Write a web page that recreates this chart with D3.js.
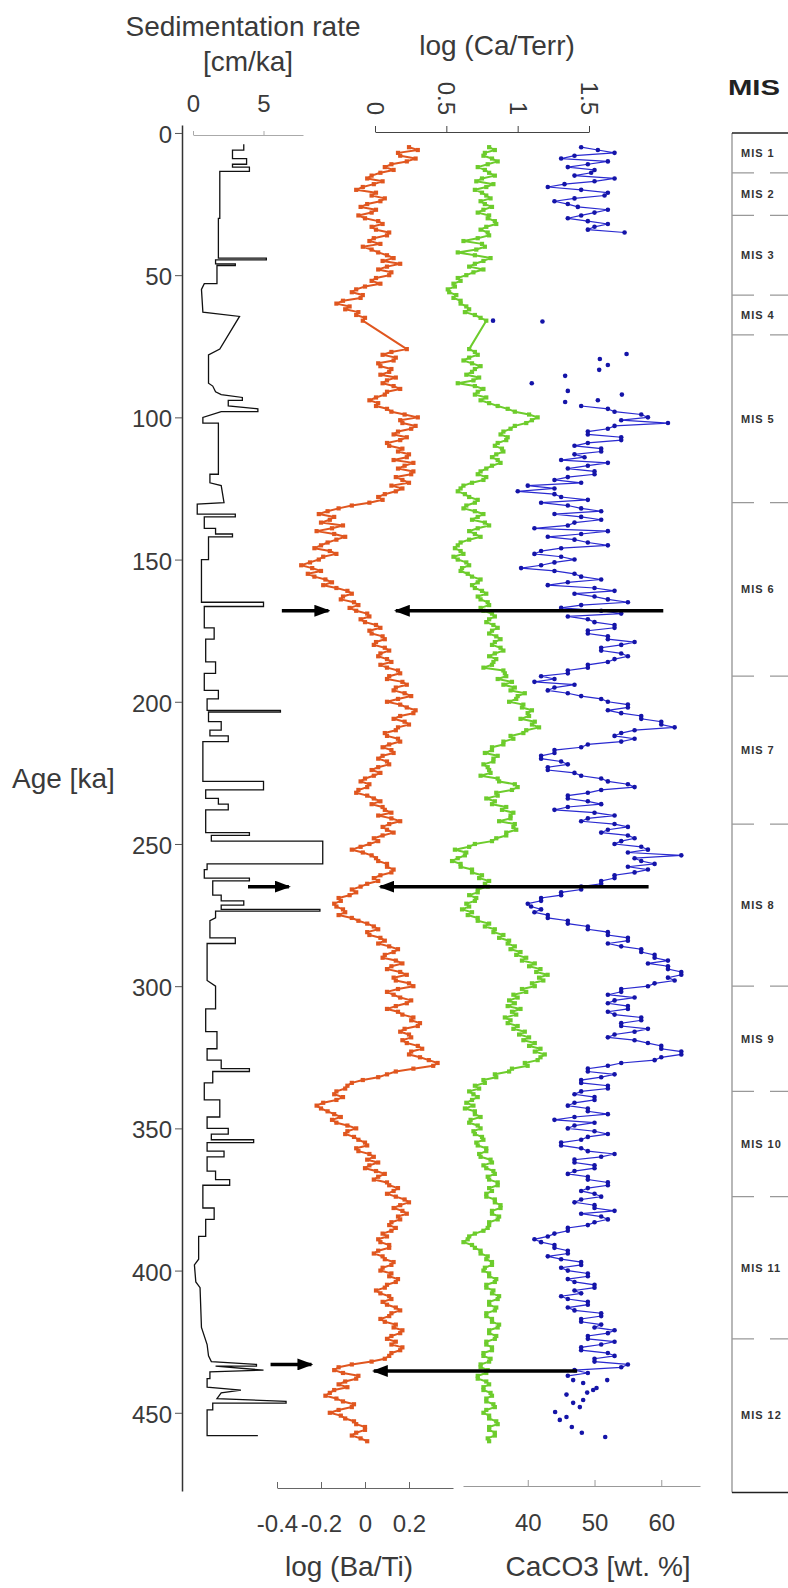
<!DOCTYPE html>
<html>
<head>
<meta charset="utf-8">
<script src="https://cdn.jsdelivr.net/npm/d3@7"></script>
<style>
  body { margin: 0; background: #fff; }
  svg { display: block; font-family: "Liberation Sans", Arial, sans-serif; }
  .tick text { fill: #3a3a3a; font-size: 24px; }
  .title { fill: #3a3a3a; font-size: 28px; }
</style>
</head>
<body>
<svg id="chart" width="788" height="1588"></svg>
<script>
// XRF records: one value per ka starting at 5 ka (null = gap)
const xrfStart = 5, xrfStep = 1;

// log(Ba/Ti)
const baTi = [
  0.2, 0.24, 0.15, 0.16, 0.23, 0.19, 0.12, 0.09, 0.13, 0.07, 0.03, 0.01, 0.08, 0.04, -0.01, -0.04, 0.05, 0.03, 0.09, 0.07,
  0.01, -0.02, 0.05, 0.03, -0.03, 0.0, 0.06, 0.08, 0.03, 0.05, 0.11, 0.1, 0.04, 0.02, 0.07, -0.01, 0.03, 0.06, 0.1, 0.13,
  0.08, 0.16, 0.1, 0.06, 0.12, 0.11, 0.05, 0.03, 0.07, 0.0, -0.04, -0.06, -0.01, -0.02, -0.1, -0.13, -0.07, -0.09, -0.03, -0.04,
  0.0, -0.01, null, null, null, null, null, null, null, null, null, 0.19, 0.12, 0.08, 0.14, 0.13, 0.06, 0.07, 0.12, 0.11,
  0.07, 0.14, 0.1, 0.08, 0.13, 0.16, 0.1, 0.09, 0.05, 0.02, 0.06, 0.05, 0.1, 0.12, 0.18, 0.24, 0.16, 0.17, 0.23, 0.21,
  0.15, 0.13, 0.19, 0.16, 0.1, 0.11, 0.17, 0.15, 0.2, 0.19, 0.13, 0.22, 0.18, 0.15, 0.22, 0.21, 0.14, 0.17, 0.2, 0.12,
  0.17, 0.14, 0.09, 0.06, 0.08, 0.02, -0.06, -0.12, -0.17, -0.21, -0.14, -0.16, -0.2, -0.1, -0.15, -0.22, -0.14, -0.09, -0.13, -0.17,
  -0.2, -0.23, -0.16, -0.13, -0.19, -0.21, -0.25, -0.29, -0.24, -0.2, -0.26, -0.23, -0.18, -0.15, -0.19, -0.13, -0.08, -0.06, -0.1, -0.11,
  -0.05, -0.03, -0.07, -0.04, 0.01, 0.02, -0.02, 0.0, 0.05, 0.07, 0.02, 0.03, 0.08, 0.09, 0.05, 0.04, 0.09, 0.11, 0.07, 0.06,
  0.1, 0.12, 0.07, 0.1, 0.15, 0.16, 0.11, 0.1, 0.17, 0.19, 0.14, 0.13, 0.18, 0.21, 0.15, 0.1, 0.16, 0.19, 0.23, 0.22,
  0.16, 0.13, 0.18, 0.2, 0.15, 0.14, 0.09, 0.1, 0.15, 0.16, 0.11, 0.08, 0.12, 0.13, 0.08, 0.06, 0.1, 0.11, 0.06, 0.03,
  0.07, 0.04, 0.0, -0.02, 0.02, 0.01, -0.03, -0.04, 0.01, 0.04, 0.07, 0.03, 0.08, 0.09, 0.12, 0.06, 0.12, 0.16, 0.11, 0.08,
  0.1, 0.13, 0.08, 0.04, 0.06, 0.02, -0.02, -0.06, -0.01, 0.03, 0.05, 0.06, 0.1, 0.1, 0.13, 0.12, 0.07, 0.04, 0.06, 0.01,
  -0.02, -0.06, -0.04, -0.07, -0.12, -0.11, -0.14, -0.13, -0.1, -0.09, -0.12, -0.06, -0.03, 0.01, 0.04, 0.06, 0.01, 0.02, 0.07, 0.09,
  0.06, 0.11, 0.15, 0.13, 0.09, 0.08, 0.14, 0.17, 0.12, 0.1, 0.16, 0.19, 0.13, 0.14, 0.2, 0.22, 0.15, 0.1, 0.13, 0.16,
  0.21, 0.19, 0.14, 0.1, 0.15, 0.17, 0.22, 0.21, 0.25, 0.24, 0.18, 0.16, 0.2, 0.21, 0.17, 0.19, 0.24, 0.26, 0.21, 0.2,
  0.25, 0.29, 0.33, 0.31, 0.22, 0.14, 0.1, 0.06, -0.01, -0.06, -0.08, -0.09, -0.13, -0.14, -0.1, -0.13, -0.19, -0.22, -0.2, -0.17,
  -0.14, -0.11, -0.15, -0.13, -0.08, -0.04, -0.08, -0.09, -0.05, -0.03, 0.0, 0.01, -0.04, -0.03, 0.02, 0.04, 0.01, 0.06, 0.02, 0.0,
  0.05, 0.09, 0.06, 0.04, 0.1, 0.11, 0.15, 0.13, 0.1, 0.14, 0.18, 0.2, 0.16, 0.13, 0.17, 0.19, 0.15, 0.16, 0.12, 0.11,
  0.14, 0.12, 0.08, 0.1, 0.06, 0.07, 0.11, 0.11, 0.06, 0.04, 0.08, 0.09, 0.13, 0.12, 0.08, 0.07, 0.12, 0.11, 0.15, 0.14,
  0.1, 0.09, 0.05, 0.07, 0.11, 0.12, 0.08, 0.1, 0.14, 0.16, 0.12, 0.11, 0.07, 0.09, 0.14, 0.13, 0.17, 0.16, 0.12, 0.1,
  0.14, 0.12, 0.17, 0.16, 0.12, 0.11, 0.09, 0.03, -0.06, -0.12, -0.14, -0.1, -0.03, -0.04, -0.09, -0.12, -0.08, -0.14, -0.16, -0.18,
  -0.13, -0.1, -0.05, -0.06, -0.12, -0.16, -0.11, -0.09, -0.05, -0.04, 0.0, 0.0, -0.04, -0.06, -0.02, 0.01
];

// log(Ca/Terr)
const caTerr = [
  0.8, 0.84, 0.77, 0.76, 0.82, 0.86, 0.79, 0.72, 0.77, 0.8, 0.84, 0.75, 0.71, 0.83, 0.78, 0.7, 0.75, 0.78, 0.81, 0.74,
  0.77, 0.82, 0.76, 0.72, 0.8, 0.79, 0.84, 0.85, 0.78, 0.74, 0.79, 0.8, 0.72, 0.62, 0.75, 0.77, 0.71, 0.58, 0.7, 0.81,
  0.76, 0.7, 0.66, 0.76, 0.69, 0.64, 0.58, 0.6, 0.55, 0.56, 0.51, 0.52, 0.57, 0.55, 0.6, 0.6, 0.64, 0.66, 0.63, 0.7,
  0.74, 0.78, null, null, null, null, null, null, null, null, null, 0.66, 0.7, 0.72, 0.66, 0.62, 0.68, 0.74, 0.7, 0.68,
  0.64, 0.73, 0.69, 0.58, 0.7, 0.76, 0.72, 0.7, 0.78, 0.74, 0.8, 0.86, 0.93, 0.98, 1.08, 1.14, 1.1, 1.06, 0.98, 0.95,
  0.9, 0.88, 0.93, 0.92, 0.86, 0.84, 0.89, 0.9, 0.85, 0.82, 0.86, 0.88, 0.82, 0.78, 0.74, 0.72, 0.78, 0.76, 0.68, 0.62,
  0.6, 0.58, 0.63, 0.66, 0.72, 0.7, 0.64, 0.62, 0.7, 0.76, 0.72, 0.68, 0.77, 0.8, 0.72, 0.66, 0.7, 0.74, 0.66, 0.6,
  0.58, 0.56, 0.6, 0.62, 0.55, 0.58, 0.64, 0.66, 0.61, 0.6, 0.65, 0.68, 0.74, 0.72, 0.68, 0.7, 0.75, 0.78, 0.72, 0.74,
  0.79, 0.8, 0.74, 0.76, 0.82, 0.84, 0.8, 0.78, 0.83, 0.86, 0.82, 0.8, 0.85, 0.88, 0.84, 0.82, 0.88, 0.9, 0.84, 0.8,
  0.85, 0.83, 0.82, 0.76, 0.9, 0.91, 0.92, 0.86, 0.96, 0.9, 0.98, 0.95, 1.05, 1.0, 0.99, 0.94, 1.04, 1.03, 1.1, 1.07,
  1.08, 1.02, 1.12, 1.1, 1.15, 1.06, 1.04, 0.95, 0.97, 0.9, 0.9, 0.82, 0.82, 0.77, 0.86, 0.83, 0.83, 0.76, 0.79, 0.8,
  0.81, 0.74, 0.86, 0.87, 0.98, 1.0, 0.96, 0.85, 0.86, 0.78, 0.84, 0.82, 0.92, 0.89, 0.97, 0.95, 0.95, 0.87, 0.98, 0.97,
  0.99, 0.92, 0.92, 0.85, 0.82, 0.7, 0.66, 0.56, 0.64, 0.63, 0.58, 0.54, 0.6, 0.6, 0.68, 0.68, 0.75, 0.73, 0.8, 0.77,
  0.79, 0.72, 0.72, 0.66, 0.71, 0.7, 0.64, 0.66, 0.61, 0.68, 0.65, 0.72, 0.72, 0.8, 0.77, 0.84, 0.83, 0.9, 0.87, 0.94,
  0.93, 0.98, 0.95, 1.02, 0.99, 1.06, 1.03, 1.12, 1.08, 1.16, 1.13, 1.21, 1.15, 1.18, 1.1, 1.12, 1.03, 1.06, 0.97, 1.0,
  0.94, 0.98, 0.93, 1.02, 0.96, 0.99, 0.91, 0.95, 0.93, 1.0, 0.97, 1.05, 1.01, 1.08, 1.04, 1.12, 1.08, 1.16, 1.12, 1.19,
  1.16, 1.14, 1.05, 1.07, 0.96, 0.94, 0.84, 0.85, 0.76, 0.77, 0.7, 0.73, 0.66, 0.69, 0.72, 0.68, 0.64, 0.69, 0.63, 0.7,
  0.7, 0.74, 0.67, 0.66, 0.72, 0.74, 0.69, 0.7, 0.75, 0.76, 0.71, 0.72, 0.78, 0.78, 0.73, 0.74, 0.81, 0.82, 0.76, 0.78,
  0.83, 0.84, 0.79, 0.8, 0.86, 0.86, 0.8, 0.82, 0.78, 0.78, 0.84, 0.84, 0.88, 0.88, 0.82, 0.82, 0.87, 0.86, 0.8, 0.8,
  0.79, 0.76, 0.7, 0.66, 0.65, 0.62, 0.68, 0.7, 0.74, 0.74, 0.79, 0.78, 0.82, 0.82, 0.77, 0.76, 0.8, 0.8, 0.85, 0.84,
  0.78, 0.78, 0.83, 0.82, 0.87, 0.86, 0.8, 0.8, 0.85, 0.84, 0.78, 0.78, 0.82, 0.82, 0.87, 0.86, 0.8, 0.8, 0.85, 0.84,
  0.78, 0.78, 0.82, 0.82, 0.76, 0.76, 0.81, 0.8, 0.74, 0.74, 0.79, 0.78, 0.72, 0.72, 0.78, 0.8, 0.76, 0.76, 0.81, 0.82,
  0.78, 0.78, 0.83, 0.84, 0.78, 0.76, 0.8, 0.8, 0.85, 0.86, 0.8, 0.8, 0.84, 0.84, 0.79, 0.8
];

// CaCO3 [wt. %], one value per ka, two connected stretches
const caco3TopStart = 5;
const caco3Top = [
  48, 50.5, 53, 47, 45, 52, 49, 46, 50, 49.5, 47, 53, 50, 45.5, 43, 48, 52, 51.5, 47, 44,
  46, 47.5, 52, 50, 48, 46, 49, 52, 50, 49, 54.5
];
const caco3MainStart = 96;
const caco3Main = [
  48, 52, 53, 57, 58, 54, 61, 53, 52, 49, 49, 54, 54, 49, 47, 51, 51, 47, 48.5, 45,
  52, 49, 46, 50, 50, 46, 44, 48, 40, 44, 38.5, 44, 45, 49, 42, 46, 48, 51, 44, 48,
  51, 47, 46, 41, 52, 48, 43, 47, 49, 52, 45, 42, 41, 45, 47, 44, 42, 39, 44, 47,
  48, 51, 46, 43, 50, 53, 47, 50, 52, 55, 48, 45, 51, 54, 46, 49, 50, 53, 53, 49,
  49, 52, 52, 56, 54, 51, 51, 54, 55, 53, 52, 49, 49, 46, 46, 42, 44, 41, 47, 44,
  43, 46, 48, 51, 52, 55, 55, 52, 54, 57, 57, 60, 60, 62, 56, 54, 53, 56, 54, 49,
  48, 44, 44, 42, 42, 45, 46, 43, 43, 47, 48, 51, 52, 55, 56, 51, 49, 46, 46, 49,
  51, 46, 44, 50, 53, 49, 48, 53, 55, 52, 51, 55, 56, 54, 53, 57, 58, 55, 63, 56,
  57, 59, 55, 58, 56, 53, 53, 51, 51, 48, 48, 45, 45, 42, 42, 40, 40.5, 42, 41, 43,
  43, 46, 46, 49, 49, 52, 52, 55, 55, 52, 54, 57, 57, 59, 59, 61, 58, 61, 61, 63,
  63, 61, 62, 59, 58, 54, 54, 52, 56, 53, 52, 55, 55, 52, 53, 57, 57, 54, 54, 58,
  56, 53, 52, 56, 58, 60, 60, 63, 63, 60, 59, 54, 52, 49, 49, 53, 51, 48, 48, 52,
  52, 48, 47, 50, 50, 47, 46, 49, 49, 52, 47, 44, 50, 47, 46, 50, 52, 49, 48, 45,
  45, 48, 49, 53, 51, 47, 47, 50, 50, 47, 46, 49, 49, 52, 52, 49, 48, 50, 51, 48,
  47, 50, 50, 53, 48, 51, 52, 50, 49, 46, 46, 44, 43, 41, 42, 44, 44, 46, 46, 43,
  45, 48, 48, 45, 46, 49, 49, 46, 47, 50, 50, 47, 48, 45, 46, 49, 49, 46, 47, 51,
  51, 48, 48, 51, 50, 53, 52, 49, 49, 53, 51, 48, 48, 52, 53, 50, 50, 55, 54, 47,
  49, 46
];

// isolated CaCO3 samples [age, wt.%]
const caco3Loose = [
  [66, 34.8], [66.3, 42.2], [77.7, 54.8], [79.5, 50.8], [81.6, 52.0], [83.3, 50.7],
  [85.4, 45.6], [88, 40.6], [90.7, 46], [92, 54.1], [94, 50.5], [94.6, 45.6],
  [438.5, 46.8], [438.5, 51.9], [439.5, 48.3], [441.3, 50.3], [442, 49.8], [442.9, 48.9],
  [443.6, 45.8], [445.5, 48.3], [446.5, 46.8], [448, 47.8], [449.7, 44.1], [451.5, 45.8],
  [452.5, 44.8], [455, 46.6], [457, 48.1], [458.5, 51.6]
];

// sedimentation rate [age, cm/ka]
const sedRate = [
  [4, 3.6], [6, 3.6], [6, 2.8], [9, 2.8], [9, 3.8], [11, 3.8], [11, 2.8], [12, 2.8],
  [12, 4.0], [13.5, 4.0], [13.5, 1.9], [30, 1.9], [30, 1.8], [44, 1.8], [44, 5.2],
  [44.6, 5.2], [44.6, 1.6], [46, 1.6], [46, 3.0], [46.6, 3.0], [46.6, 1.7], [53, 1.7],
  [53, 0.8], [55, 0.6], [63, 0.7], [64.5, 3.3], [76, 1.9], [78, 1.1], [88, 1.1],
  [89, 1.4], [91, 1.6], [92, 2.0], [93, 3.5], [94, 3.5], [94, 2.5], [96, 2.5], [97, 4.6],
  [98, 4.6], [98, 2.0], [100, 0.7], [102, 0.7], [102, 1.8], [120, 1.8], [120, 1.2],
  [123, 1.2], [124, 2.0], [130, 2.2], [130.5, 0.3], [134, 0.3], [134, 3.0], [135, 3.0],
  [135, 0.8], [139, 0.8], [139, 1.6], [141, 1.6], [141, 2.8], [142, 2.8], [142, 1.1],
  [150, 1.1], [150, 0.6], [165, 0.6], [165, 5.0], [166.5, 5.0], [166.5, 0.8], [174, 0.8],
  [174, 1.5], [178, 1.5], [178, 0.9], [186, 0.9], [186, 1.6], [190, 1.6], [190, 0.8],
  [196, 0.8], [196, 1.8], [199, 1.8], [199, 1.0],
  [203, 1.0], [203, 6.2], [203.6, 6.2], [203.6, 1.1], [207, 1.1], [207, 2.0], [210, 2.0],
  [210, 1.2], [212, 1.2], [212, 2.5], [214, 2.5], [214, 0.7], [228, 0.7], [228, 5.0],
  [231, 5.0], [231, 0.9], [234, 0.9], [234, 1.8], [236, 1.8], [236, 2.5], [238, 2.5],
  [238, 0.9], [246, 0.9], [246, 4.0], [247, 4.0], [247, 1.3], [249, 1.3], [249, 9.2],
  [257, 9.2], [257, 1.0], [259, 1.0], [259, 0.8], [262, 0.8], [262, 4.0], [263, 4.0],
  [263, 1.4], [268, 1.4], [268, 2.0], [270, 2.0], [270, 3.6], [271.5, 3.6], [271.5, 2.0],
  [273, 2.0], [273, 9.0], [273.6, 9.0], [273.6, 1.6], [276, 1.6], [277, 1.2], [283, 1.2],
  [283, 3.0], [285, 3.0], [285, 1.0], [298, 1.0], [300, 1.6], [308, 1.6], [308, 0.9],
  [316, 0.9], [316, 1.7], [322, 1.7], [322, 1.0], [326, 1.0], [326, 2.0], [329, 2.0],
  [329, 4.0], [330, 4.0], [330, 1.4], [334, 1.4], [334, 0.8], [340, 0.8], [340, 1.9],
  [346, 1.9], [346, 1.0], [350, 1.0], [350, 2.5], [352, 2.5], [352, 1.3], [354, 1.3],
  [354, 4.3], [355, 4.3], [355, 1.0], [358, 1.0], [358, 2.2], [360, 2.2], [360, 1.0],
  [365, 1.0], [365, 1.6], [368, 1.6], [368, 2.6], [370, 2.6], [370, 0.7], [378, 0.7],
  [378, 1.5], [382, 1.5], [382, 0.9], [388, 0.9], [388, 0.4], [396, 0.4], [398, 0.1],
  [404, 0.2], [406, 0.5], [420, 0.6], [426, 1.0], [430, 1.1], [432, 1.3], [433, 4.5],
  [433.6, 4.5], [433.6, 1.6], [435, 5.0], [435.6, 1.2], [438, 1.2], [438, 1.0], [441, 1.0],
  [442, 3.4], [443, 2.0], [445, 1.7], [446, 6.6], [446.6, 6.6], [446.6, 1.4], [449, 1.4],
  [449, 1.0], [458, 1.0], [458, 4.6]
];

// marine isotope stages
const misBounds = [0, 14, 29, 57, 71, 130, 191, 243, 300, 337, 374, 424, 478];
const misNames = ["MIS 1", "MIS 2", "MIS 3", "MIS 4", "MIS 5", "MIS 6", "MIS 7",
                  "MIS 8", "MIS 9", "MIS 10", "MIS 11", "MIS 12"];

// arrows: short one in sed-rate units, long one from CaCO3 to Ba/Ti
const arrows = [
  { ageShort: 168, sedFrom: 6.3, sedTo: 9.6, ageLong: 168, caco3From: 60.3, baTiTo: 0.14 },
  { ageShort: 265, sedFrom: 3.9, sedTo: 6.8, ageLong: 265, caco3From: 58.1, baTiTo: 0.07 },
  { ageShort: 433, sedFrom: 5.5, sedTo: 8.4, ageLong: 435.3, caco3From: 47.4, baTiTo: 0.04 }
];

const ageTicks = [0, 50, 100, 150, 200, 250, 300, 350, 400, 450];

const svg = d3.select("#chart");

// scales
const y = d3.scaleLinear().domain([-2.8, 477.5]).range([125, 1491]);
const xSed = d3.scaleLinear().domain([0, 7.8]).range([193, 303]);
const xCaTerr = d3.scaleLinear().domain([0, 1.5]).range([375, 589]);
const xBaTi = d3.scaleLinear().domain([-0.4, 0.4]).range([277, 453]);
const xCaco3 = d3.scaleLinear().domain([30.3, 65.8]).range([463, 700]);

// arrow head
svg.append("defs").append("marker")
    .attr("id", "head")
    .attr("markerUnits", "userSpaceOnUse")
    .attr("markerWidth", 16).attr("markerHeight", 12)
    .attr("refX", 14).attr("refY", 6)
    .attr("orient", "auto")
  .append("path")
    .attr("d", "M0,0 L16,6 L0,12 Z")
    .attr("fill", "#000");

// age axis
const ageAxis = svg.append("g")
    .attr("transform", "translate(182,0)")
    .call(d3.axisLeft(y).tickValues(ageTicks).tickSize(7).tickPadding(3).tickSizeOuter(0));
ageAxis.select(".domain").attr("stroke", "#333").attr("stroke-width", 1.5);
ageAxis.selectAll(".tick line").attr("stroke", "#555");
ageAxis.selectAll(".tick text").attr("dy", "0.4em");

svg.append("text").attr("class", "title")
    .attr("x", 12).attr("y", 788).text("Age [ka]");

// sedimentation rate axis (top)
const sedAxis = svg.append("g")
    .attr("transform", "translate(0,135)")
    .call(d3.axisTop(xSed).tickValues([0, 5]).tickSize(4).tickPadding(19).tickSizeOuter(0));
sedAxis.select(".domain").attr("stroke", "#aaa");
sedAxis.selectAll(".tick line").attr("stroke", "#aaa");

svg.append("text").attr("class", "title").attr("text-anchor", "middle")
    .attr("x", 243).attr("y", 36).text("Sedimentation rate");
svg.append("text").attr("class", "title").attr("text-anchor", "middle")
    .attr("x", 248).attr("y", 71).text("[cm/ka]");

// log(Ca/Terr) axis (top, rotated labels)
const caAxis = svg.append("g")
    .attr("transform", "translate(0,132)")
    .call(d3.axisTop(xCaTerr).tickValues([0, 0.5, 1, 1.5]).tickSize(6).tickSizeOuter(0)
      .tickFormat(d => String(d)));
caAxis.select(".domain").attr("stroke", "#444");
caAxis.selectAll(".tick line").attr("stroke", "#444");
caAxis.selectAll(".tick text")
    .attr("y", 0).attr("dy", "0.35em")
    .attr("text-anchor", "end")
    .attr("transform", "translate(0,-17) rotate(90)");

svg.append("text").attr("class", "title").attr("text-anchor", "middle")
    .attr("x", 497).attr("y", 55).text("log (Ca/Terr)");

// log(Ba/Ti) axis (bottom)
const baAxis = svg.append("g")
    .attr("transform", "translate(0,1488)")
    .call(d3.axisBottom(xBaTi).tickValues([-0.4, -0.2, 0, 0.2]).tickSizeInner(-6)
      .tickSizeOuter(0).tickPadding(27).tickFormat(d => String(d)));
baAxis.select(".domain").attr("stroke", "#666");
baAxis.selectAll(".tick line").attr("stroke", "#666");

svg.append("text").attr("class", "title").attr("text-anchor", "middle")
    .attr("x", 349).attr("y", 1576).text("log (Ba/Ti)");

// CaCO3 axis (bottom)
const cAxis = svg.append("g")
    .attr("transform", "translate(0,1486)")
    .call(d3.axisBottom(xCaco3).tickValues([40, 50, 60]).tickSizeInner(-6)
      .tickSizeOuter(0).tickPadding(28));
cAxis.select(".domain").attr("stroke", "#999");
cAxis.selectAll(".tick line").attr("stroke", "#999");

svg.append("text").attr("class", "title").attr("text-anchor", "middle")
    .attr("x", 598).attr("y", 1576).text("CaCO3 [wt. %]");

// sedimentation rate curve
svg.append("path")
    .datum(sedRate)
    .attr("fill", "none")
    .attr("stroke", "#111")
    .attr("stroke-width", 1.3)
    .attr("d", d3.line().x(d => xSed(d[1])).y(d => y(d[0])));

// xrf series: line with small square markers, gaps bridged by straight line
function drawSeries(values, xScale, color) {
  const pts = values.map((v, i) => [xrfStart + i * xrfStep, v]).filter(d => d[1] !== null);
  svg.append("path")
      .datum(pts)
      .attr("fill", "none")
      .attr("stroke", color)
      .attr("stroke-width", 2)
      .attr("stroke-linejoin", "round")
      .attr("d", d3.line().x(d => xScale(d[1])).y(d => y(d[0])));
  svg.append("g").selectAll("rect")
    .data(pts).enter().append("rect")
      .attr("x", d => xScale(d[1]) - 2.1)
      .attr("y", d => y(d[0]) - 2.1)
      .attr("width", 4.2).attr("height", 4.2)
      .attr("fill", color);
}

drawSeries(baTi, xBaTi, "#e0561f");
drawSeries(caTerr, xCaTerr, "#6dcc2c");

// CaCO3: two connected stretches + isolated dots
const caco3Segs = [
  caco3Top.map((v, i) => [caco3TopStart + i, v]),
  caco3Main.map((v, i) => [caco3MainStart + i, v])
];
const caLine = d3.line().x(d => xCaco3(d[1])).y(d => y(d[0]));
svg.append("g").selectAll("path")
  .data(caco3Segs)
  .enter().append("path")
    .attr("fill", "none")
    .attr("stroke", "#2a2ad0")
    .attr("stroke-width", 1.2)
    .attr("d", caLine);
svg.append("g").selectAll("circle")
  .data(caco3Segs[0].concat(caco3Segs[1], caco3Loose))
  .enter().append("circle")
    .attr("cx", d => xCaco3(d[1]))
    .attr("cy", d => y(d[0]))
    .attr("r", 2.3)
    .attr("fill", "#1414a8");

// MIS column
const mis = svg.append("g");
mis.append("line")
    .attr("x1", 732).attr("x2", 732)
    .attr("y1", y(misBounds[0])).attr("y2", y(misBounds[misBounds.length - 1]))
    .attr("stroke", "#888").attr("stroke-width", 1.2);
mis.selectAll("line.bound")
  .data(misBounds)
  .enter().append("line")
    .attr("class", "bound")
    .attr("x1", 732).attr("x2", 788)
    .attr("y1", d => y(d)).attr("y2", d => y(d))
    .attr("stroke", (d, i) => (i === 0 || i === misBounds.length - 1) ? "#222" : "#999")
    .attr("stroke-width", (d, i) => (i === 0 || i === misBounds.length - 1) ? 1.5 : 1.2)
    .attr("stroke-dasharray", (d, i) => (i === 0 || i === misBounds.length - 1) ? null : "22,16,60");
mis.selectAll("text")
  .data(misNames)
  .enter().append("text")
    .attr("x", 741)
    .attr("y", (d, i) => y((misBounds[i] + misBounds[i + 1]) / 2))
    .attr("dy", "0.35em")
    .attr("font-size", 11)
    .attr("font-weight", "bold")
    .attr("letter-spacing", 1)
    .attr("fill", "#333")
    .text(d => d);
svg.append("text")
    .attr("x", 754).attr("y", 95)
    .attr("text-anchor", "middle")
    .attr("font-size", 22).attr("font-weight", "bold")
    .attr("fill", "#222")
    .attr("textLength", 52).attr("lengthAdjust", "spacingAndGlyphs")
    .text("MIS");

// arrows
const arrowG = svg.append("g");
arrows.forEach(a => {
  arrowG.append("line")
      .attr("x1", xSed(a.sedFrom)).attr("x2", xSed(a.sedTo))
      .attr("y1", y(a.ageShort)).attr("y2", y(a.ageShort))
      .attr("stroke", "#000").attr("stroke-width", 3.5)
      .attr("marker-end", "url(#head)");
  arrowG.append("line")
      .attr("x1", xCaco3(a.caco3From)).attr("x2", xBaTi(a.baTiTo))
      .attr("y1", y(a.ageLong)).attr("y2", y(a.ageLong))
      .attr("stroke", "#000").attr("stroke-width", 3.5)
      .attr("marker-end", "url(#head)");
});
</script>
</body>
</html>
